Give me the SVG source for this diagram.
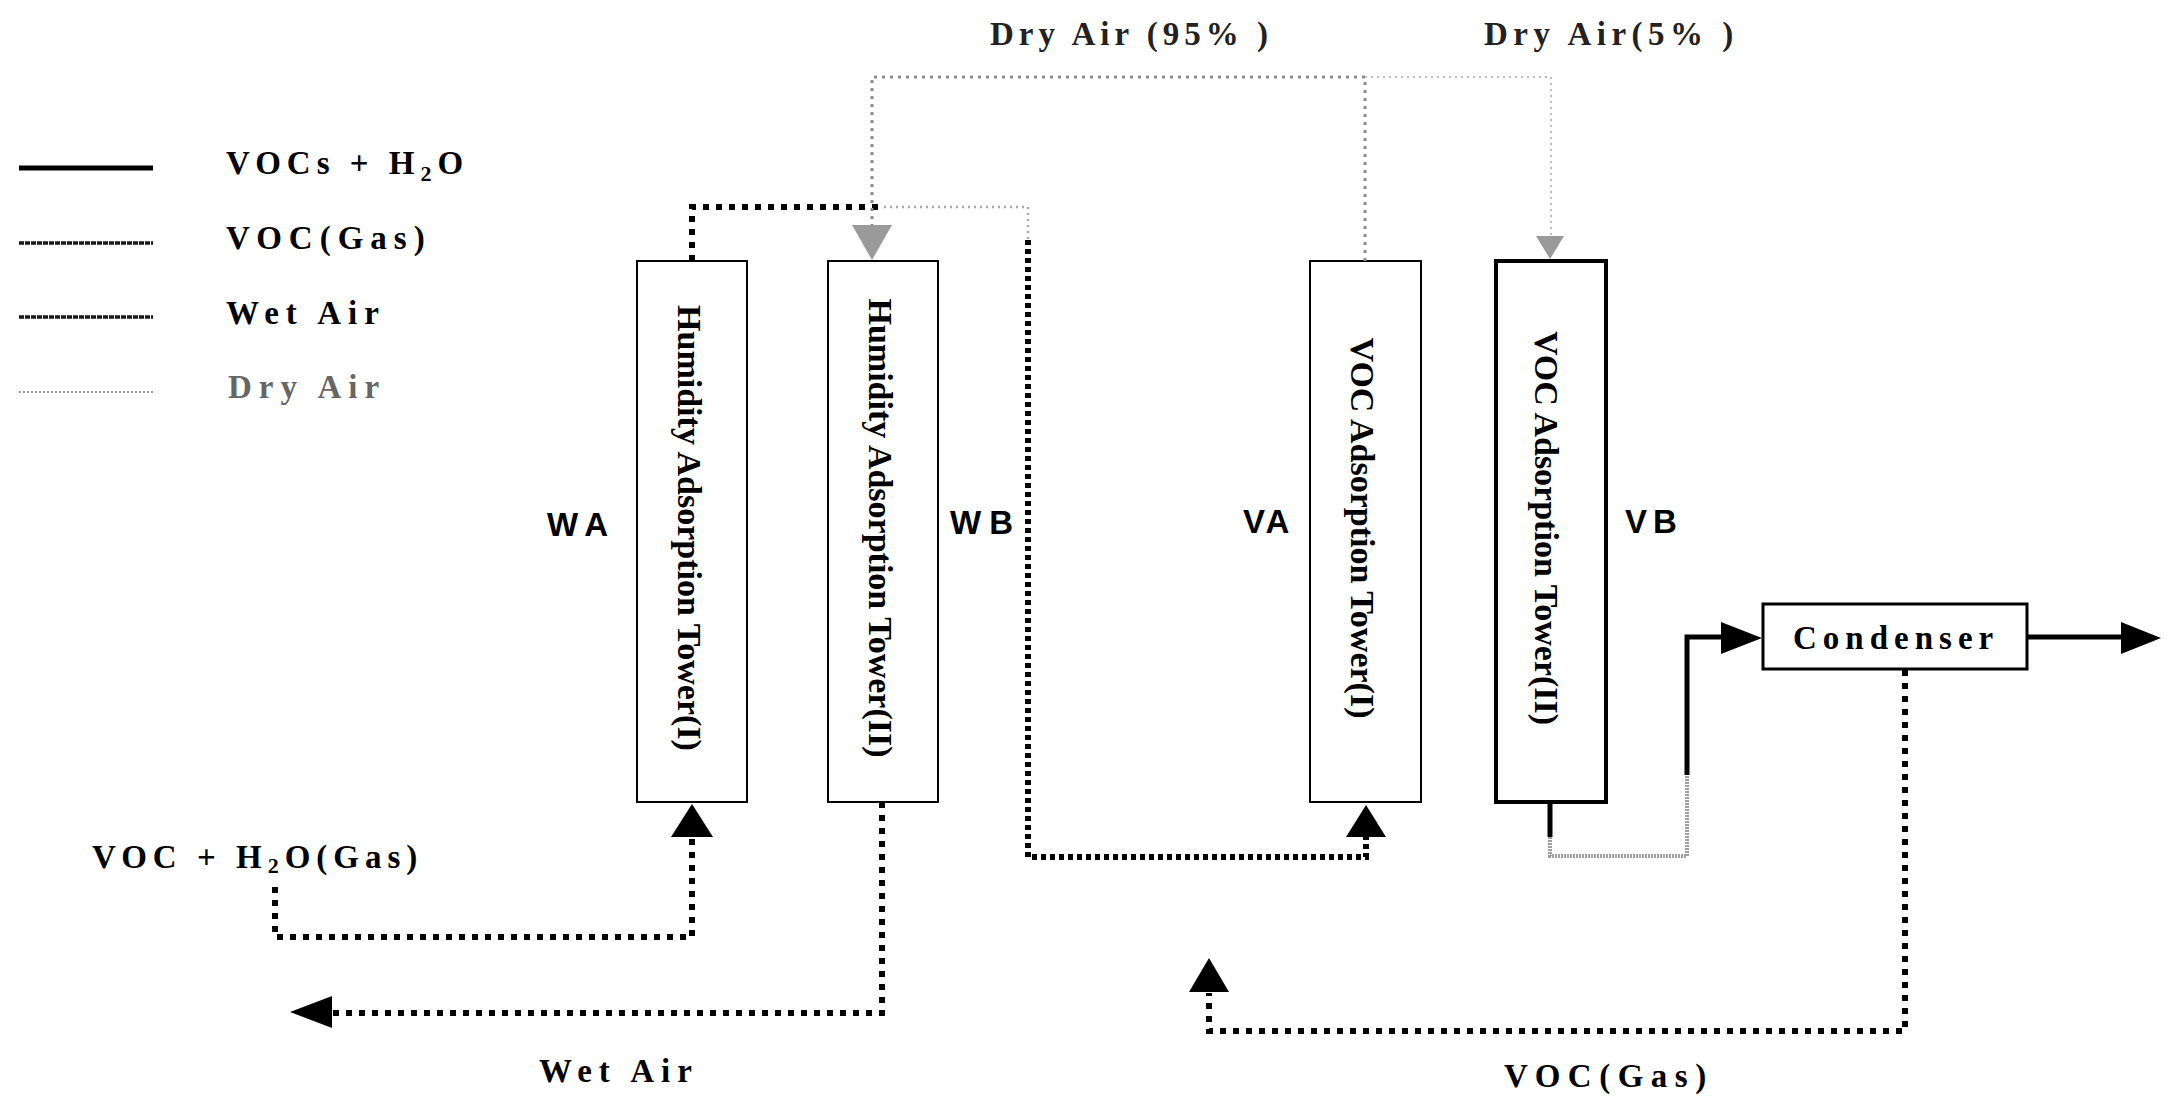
<svg xmlns="http://www.w3.org/2000/svg" width="2167" height="1097" viewBox="0 0 2167 1097">
<defs>
<style>
.serif{font-family:"Liberation Serif","Times New Roman",serif;font-weight:bold;font-size:33px;fill:#000}
.sans{font-family:"Liberation Sans",Arial,sans-serif;font-weight:bold;font-size:33px;fill:#000}
.tower{fill:#fff;stroke:#000;stroke-width:2}
.tlabel{font-family:"Liberation Serif","Times New Roman",serif;font-weight:bold;font-size:34px;text-anchor:middle;fill:#000}
.wet{fill:none;stroke:#000;stroke-width:6;stroke-dasharray:6 7}
.wetd{fill:none;stroke:#000;stroke-width:6;stroke-dasharray:5 4}
.dry{fill:none;stroke:#8c8c8c;stroke-width:3;stroke-dasharray:3 5}
.dry2{fill:none;stroke:#a8a8a8;stroke-width:1.5;stroke-dasharray:2 4}
.gsolid{fill:none;stroke:#a0a0a0;stroke-width:4;stroke-dasharray:2 1}
.solid{fill:none;stroke:#000;stroke-width:5}
.ah{fill:#000}
.ahg{fill:#9a9a9a}
</style>
</defs>
<rect x="0" y="0" width="2167" height="1097" fill="#fff"/>

<g id="legend">
  <line x1="19" y1="168" x2="153" y2="168" stroke="#000" stroke-width="5"/>
  <line x1="19" y1="243" x2="153" y2="243" stroke="#1a1a1a" stroke-width="3.5" stroke-dasharray="5 1"/>
  <line x1="19" y1="317" x2="153" y2="317" stroke="#1a1a1a" stroke-width="3.5" stroke-dasharray="5 1"/>
  <line x1="19" y1="392" x2="153" y2="392" stroke="#999" stroke-width="2" stroke-dasharray="2 2"/>
  <text class="serif" x="226" y="174" letter-spacing="6">VOCs + H<tspan dy="7" font-size="22">2</tspan><tspan dy="-7">O</tspan></text>
  <text class="serif" x="226" y="249" letter-spacing="7">VOC(Gas)</text>
  <text class="serif" x="226" y="324" letter-spacing="7">Wet Air</text>
  <text class="serif" x="228" y="398" letter-spacing="7" style="fill:#666">Dry Air</text>
</g>

<g id="tower-wa">
  <rect class="tower" x="637" y="261" width="110" height="541"/>
  <text class="tlabel" transform="translate(678,528) rotate(90)">Humidity Adsorption Tower(I)</text>
</g>
<g id="tower-wb">
  <rect class="tower" x="828" y="261" width="110" height="541"/>
  <text class="tlabel" transform="translate(869,528) rotate(90)">Humidity Adsorption Tower(II)</text>
</g>
<g id="tower-va">
  <rect class="tower" x="1310" y="261" width="111" height="541"/>
  <text class="tlabel" transform="translate(1351,528) rotate(90)">VOC Adsorption Tower(I)</text>
</g>
<g id="tower-vb">
  <rect class="tower" x="1496" y="261" width="110" height="541" style="stroke-width:4"/>
  <text class="tlabel" transform="translate(1535,528) rotate(90)">VOC Adsorption Tower(II)</text>
</g>
<g id="condenser">
  <rect x="1763" y="604" width="264" height="65" fill="#fff" stroke="#000" stroke-width="3"/>
  <text class="serif" x="1793" y="649" font-size="32" letter-spacing="6">Condenser</text>
</g>

<g id="labels">
  <text class="sans" x="547" y="536" letter-spacing="8">WA</text>
  <text class="sans" x="950" y="534" letter-spacing="8">WB</text>
  <text class="sans" x="1243" y="533" letter-spacing="3">VA</text>
  <text class="sans" x="1625" y="533" letter-spacing="6">VB</text>
  <text class="serif" x="990" y="45" letter-spacing="5" style="fill:#222">Dry Air (95% )</text>
  <text class="serif" x="1484" y="45" letter-spacing="5.5" style="fill:#222">Dry Air(5% )</text>
  <text class="serif" x="92" y="868" letter-spacing="6">VOC + H<tspan dy="5" font-size="22">2</tspan><tspan dy="-5">O(Gas)</tspan></text>
  <text class="serif" x="539" y="1082" letter-spacing="7">Wet Air</text>
  <text class="serif" x="1504" y="1087" letter-spacing="7.5">VOC(Gas)</text>
</g>

<g id="connectors">
  <path class="wet" d="M275 887 V937 H692 V837"/>
  <polygon class="ah" points="692,804 671,837 713,837"/>
  <path class="wet" d="M692 261 V207 H884"/>
  <path class="dry2" d="M884 207 H1028 V240" style="stroke-width:2.5"/>
  <path class="wetd" d="M1028 240 V857 H1366 V837"/>
  <polygon class="ah" points="1366,805 1346,837 1386,837"/>
  <path class="wet" d="M882 802 V1013 H332"/>
  <polygon class="ah" points="290,1012 332,996 332,1028"/>
  <path class="dry" d="M1365 261 V77 H872 V225"/>
  <polygon class="ahg" points="872,260 852,225 892,225"/>
  <path class="dry2" d="M1365 77 H1551 V236"/>
  <polygon class="ahg" points="1550,259 1536,236 1564,236"/>
  <path class="solid" d="M1550 802 V837"/>
  <path class="gsolid" d="M1550 837 V856 H1687 V775"/>
  <path class="solid" d="M1687 775 V637 H1722"/>
  <polygon class="ah" points="1762,638 1721,622 1721,654"/>
  <path class="solid" d="M2027 637 H2122"/>
  <polygon class="ah" points="2161,638 2121,622 2121,654"/>
  <path class="wet" d="M1905 670 V1031 H1209 V993"/>
  <polygon class="ah" points="1209,958 1189,992 1229,992"/>
</g>
</svg>
